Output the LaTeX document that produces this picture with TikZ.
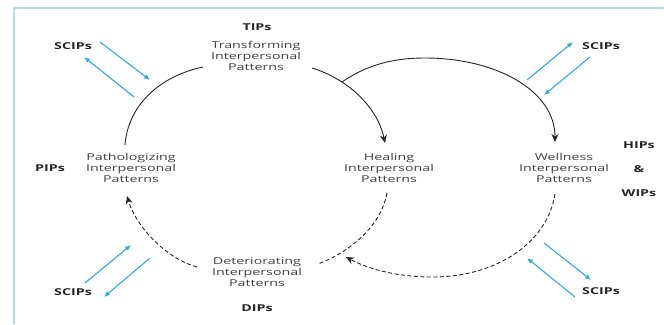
\documentclass[tikz,border=0pt]{standalone}
\usepackage{fontspec}
\setmainfont[FakeStretch=1.5]{Open Sans}
\usetikzlibrary{arrows.meta}
\definecolor{framecol}{RGB}{175,222,232}
\definecolor{scipcol}{RGB}{45,170,225}
\begin{document}
\begin{tikzpicture}[x=1pt,y=-1pt,
  txt/.style={align=center, font=\fontsize{9.5}{11}\selectfont, text=black!75, inner sep=0pt},
  lbl/.style={font=\fontsize{9.5}{11}\selectfont\bfseries, text=black!85, inner sep=0pt},
  sarc/.style={line width=0.9pt, black!85},
  darc/.style={line width=0.9pt, black!85, dash pattern=on 4pt off 2.5pt},
  scip/.style={line width=1.1pt, scipcol, -{Latex[length=6pt,width=5pt]}}]
\useasboundingbox (0,0) rectangle (664,324);
\draw[framecol, line width=1.5pt] (664,8) -- (14,8) -- (14,324);
% pattern texts
\node[lbl] (tips) at (257,27) {TIPs};
\node[txt] (transforming) at (256,56) {Transforming\\Interpersonal\\Patterns};
\node[txt] (pathologizing) at (131,168) {Pathologizing\\Interpersonal\\Patterns};
\node[lbl] (pips) at (50,168) {PIPs};
\node[txt] (healing) at (389,168) {Healing\\Interpersonal\\Patterns};
\node[txt] (wellness) at (564,168) {Wellness\\Interpersonal\\Patterns};
\node[lbl] (hips) at (639,145) {HIPs};
\node[lbl] (amp) at (639,169) {\&};
\node[lbl] (wips) at (639,193) {WIPs};
\node[txt] (deteriorating) at (257,272) {Deteriorating\\Interpersonal\\Patterns};
\node[lbl] (dips) at (257,308) {DIPs};
\node[lbl] (scips1) at (73,46) {SCIPs};
\node[lbl] (scips2) at (601,46) {SCIPs};
\node[lbl] (scips3) at (73,292) {SCIPs};
\node[lbl] (scips4) at (601,291) {SCIPs};
% curve ends
\coordinate (pa) at (125,145);
\coordinate (ta) at (203,67);
\coordinate (tb) at (312,68);
\coordinate (ha) at (385,143);
\coordinate (ra) at (342,82);
\coordinate (rtop) at (425,58);
\coordinate (wa) at (555,142);
\coordinate (hb) at (387,193);
\coordinate (da) at (318,264);
\coordinate (db) at (197,267);
\coordinate (pb) at (127,196);
\coordinate (wb) at (555,194);
\coordinate (rbot) at (432,277);
\coordinate (dc) at (346,257);
\draw[sarc] (pa) .. controls (128,105) and (160,76) .. (ta);
\draw[sarc, -{Stealth[length=8pt,width=7pt]}] (tb) .. controls (345,78) and (377,105) .. (ha);
\draw[sarc, -{Stealth[length=8pt,width=7pt]}] (ra) .. controls (368,64) and (395,58) .. (rtop) .. controls (495,58) and (555,90) .. (wa);
\draw[darc] (hb) .. controls (381,226) and (350,252) .. (da);
\draw[darc, -{Stealth[length=8pt,width=7pt]}] (db) .. controls (165,258) and (136,226) .. (pb);
\draw[darc, -{Stealth[length=8pt,width=7pt]}] (wb) .. controls (548,240) and (500,277) .. (rbot) .. controls (400,277) and (370,270) .. (dc);
% SCIPs arrows
\coordinate (s1a) at (100,42);  \coordinate (s1b) at (150,80);
\coordinate (s1c) at (134,97);  \coordinate (s1d) at (84,57);
\coordinate (s2a) at (527,80);  \coordinate (s2b) at (573,42);
\coordinate (s2c) at (590,57);  \coordinate (s2d) at (544,95);
\coordinate (s3a) at (85,283);  \coordinate (s3b) at (131,245);
\coordinate (s3c) at (150,258); \coordinate (s3d) at (104,297);
\coordinate (s4a) at (544,243); \coordinate (s4b) at (591,280);
\coordinate (s4c) at (575,297); \coordinate (s4d) at (527,258);
\draw[scip] (s1a) -- (s1b);
\draw[scip] (s1c) -- (s1d);
\draw[scip] (s2a) -- (s2b);
\draw[scip] (s2c) -- (s2d);
\draw[scip] (s3a) -- (s3b);
\draw[scip] (s3c) -- (s3d);
\draw[scip] (s4a) -- (s4b);
\draw[scip] (s4c) -- (s4d);
\end{tikzpicture}
\end{document}
